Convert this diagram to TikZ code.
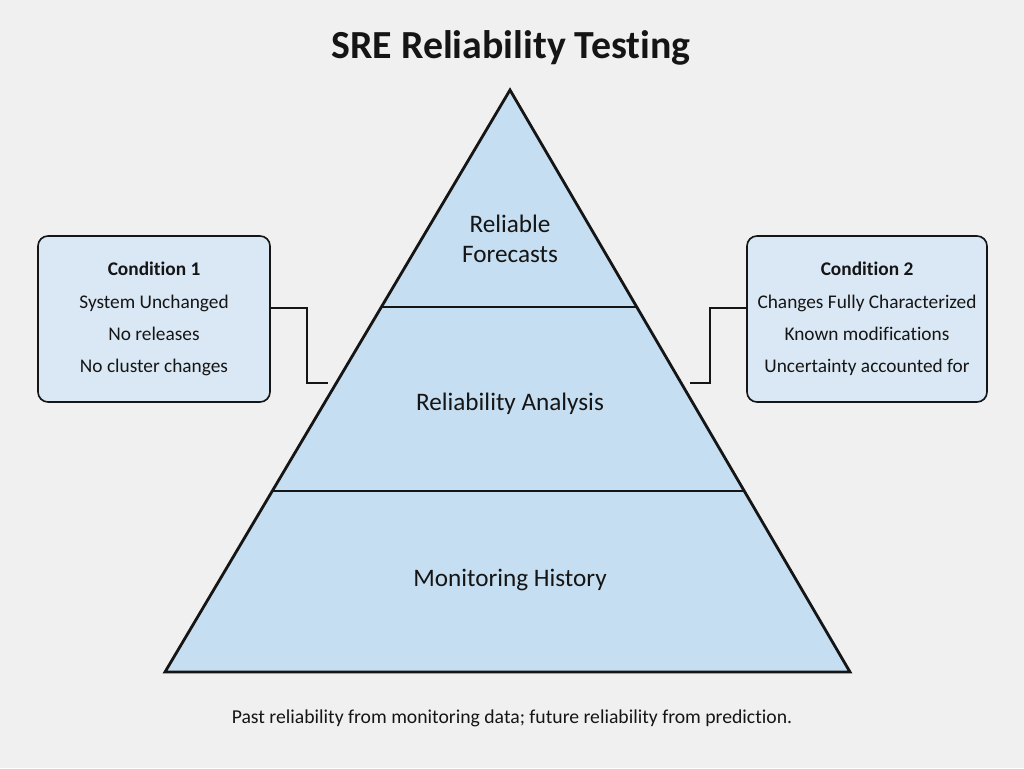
\documentclass[tikz,border=0pt]{standalone}
\usepackage{fontspec}
\setmainfont{Carlito}[Ligatures=NoCommon]
\usetikzlibrary{positioning}
\definecolor{bgc}{HTML}{F0F0F0}
\definecolor{layc}{HTML}{C6DEF1}
\definecolor{boxc}{HTML}{DAE8F5}
\definecolor{inkc}{HTML}{151515}

\begin{document}
\begin{tikzpicture}[x=0.3mm,y=-0.3mm,text=inkc,
  cb/.style={draw=inkc,fill=boxc,rounded corners=3mm,line width=1.4pt,minimum width=232*0.3mm,minimum height=166*0.3mm,align=center,font=\fontsize{16.5}{27.5}\selectfont},
  lay/.style={font=\fontsize{21.5}{26}\selectfont,align=center},
  ln/.style={draw=inkc,line width=1.5pt}]
\fill[bgc] (0,0) rectangle (1024,768);
\useasboundingbox (0,0) rectangle (1024,768);
% pyramid
\coordinate (top) at (510,90);
\coordinate (bl) at (165,672);
\coordinate (br) at (850,672);
\fill[layc] (top)--(br)--(bl)--cycle;
\draw[ln,line width=2.4pt,line join=miter] (top)--(br)--(bl)--cycle;
\draw[ln,line width=2.4pt] (381,307)--(638,307);
\draw[ln,line width=2.4pt] (273,491)--(745,491);
\node[font=\fontsize{34}{40}\selectfont\bfseries] (title) at (511,48) {SRE Reliability Testing};
\node[lay] (rf) at (510,239) {Reliable\\Forecasts};
\node[lay] (ra) at (510,404) {Reliability Analysis};
\node[lay] (mh) at (510,580) {Monitoring History};
% conditions
\node[cb] (c1) at (154,319) {\textbf{Condition 1}\\System Unchanged\\No releases\\No cluster changes};
\node[cb,minimum width=240*0.3mm] (c2) at (867,319) {\textbf{Condition 2}\\Changes Fully Characterized\\Known modifications\\Uncertainty accounted for};
\coordinate (e1) at (328,383);
\coordinate (e2) at (690,383);
\draw[ln] (c1.east|-0,308) -| (307,383) -- (e1);
\draw[ln] (c2.west|-0,308) -| (710,383) -- (e2);
\node[font=\fontsize{16.8}{20}\selectfont] (cap) at (512,718) {Past reliability from monitoring data; future reliability from prediction.};
\end{tikzpicture}
\end{document}
